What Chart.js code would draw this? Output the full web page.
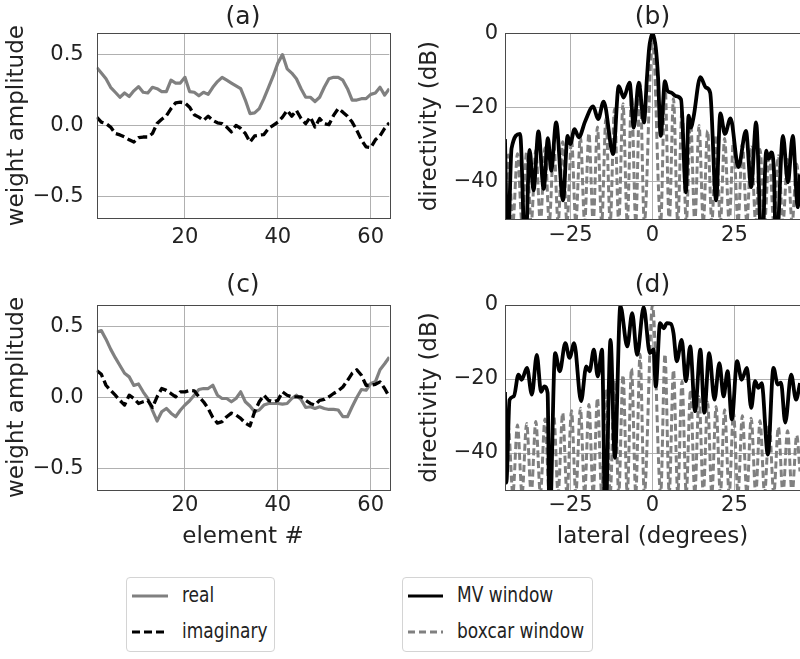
<!DOCTYPE html>
<html>
<head>
<meta charset="utf-8">
<script src="https://cdn.jsdelivr.net/npm/chart.js@4.4.0/dist/chart.umd.min.js"></script>
<style>
body { margin: 0; background: #fff; width: 800px; height: 659px; position: relative; overflow: hidden; font-family: "DejaVu Sans", sans-serif; color: #222; }
canvas { position: absolute; }
.legend { position: absolute; top: 577px; height: 75px; border: 1px solid #d4d4d4; border-radius: 4px; box-sizing: border-box; background: #fff; }
.row { position: absolute; left: 0; width: 100%; height: 30px; }
.row svg { position: absolute; left: 5px; top: 12px; }
.row span { position: absolute; top: 2px; font-size: 21px; line-height: 25px; transform: scaleX(0.81); transform-origin: left center; white-space: nowrap; }
</style>
</head>
<body>
<canvas id="chartA" width="400" height="255" style="left:0;top:0"></canvas>
<canvas id="chartB" width="400" height="255" style="left:400px;top:0"></canvas>
<canvas id="chartC" width="400" height="300" style="left:0;top:260px"></canvas>
<canvas id="chartD" width="400" height="300" style="left:400px;top:260px"></canvas>

<div class="legend" style="left:126px;width:149px">
  <div class="row" style="top:3px"><svg width="36" height="6"><line x1="0" y1="3" x2="36" y2="3" stroke="#808080" stroke-width="3"/></svg><span style="left:55px">real</span></div>
  <div class="row" style="top:39px"><svg width="36" height="6"><line x1="0" y1="3" x2="36" y2="3" stroke="#000" stroke-width="3" stroke-dasharray="8,4"/></svg><span style="left:55px">imaginary</span></div>
</div>
<div class="legend" style="left:402px;width:191px">
  <div class="row" style="top:3px"><svg width="35" height="6"><line x1="0" y1="3" x2="35" y2="3" stroke="#000" stroke-width="3"/></svg><span style="left:54px">MV window</span></div>
  <div class="row" style="top:39px"><svg width="35" height="6"><line x1="0" y1="3" x2="35" y2="3" stroke="#808080" stroke-width="3" stroke-dasharray="7,4"/></svg><span style="left:54px">boxcar window</span></div>
</div>

<script>
// element index (x of panels a, c)
var elements = [1,2,3,4,5,6,7,8,9,10,11,12,13,14,15,16,17,18,19,20,21,22,23,24,25,26,27,28,29,30,31,32,
  33,34,35,36,37,38,39,40,41,42,43,44,45,46,47,48,49,50,51,52,53,54,55,56,57,58,59,60,61,62,63,64];

var realA = [0.41,0.37,0.33,0.27,0.235,0.20,0.23,0.205,0.245,0.275,0.235,0.23,0.27,0.26,0.24,0.24,
  0.32,0.30,0.30,0.34,0.24,0.235,0.21,0.235,0.22,0.27,0.31,0.34,0.32,0.30,0.28,0.26,
  0.18,0.085,0.09,0.12,0.19,0.27,0.35,0.44,0.50,0.40,0.37,0.33,0.26,0.20,0.20,0.17,
  0.20,0.27,0.33,0.34,0.34,0.32,0.26,0.18,0.18,0.19,0.19,0.22,0.23,0.27,0.215,0.26];
var imagA = [0.06,0.025,0.015,-0.01,-0.055,-0.065,-0.08,-0.10,-0.115,-0.085,-0.08,-0.08,-0.055,0.015,0.045,0.07,
  0.12,0.16,0.165,0.16,0.13,0.077,0.06,0.037,0.067,0.037,0.02,0.014,-0.01,-0.044,0.002,-0.02,
  -0.055,-0.115,-0.072,-0.067,-0.063,-0.02,0.002,0.025,0.06,0.107,0.067,0.107,0.05,0.014,0.06,-0.01,
  0.05,0.014,0.007,0.072,0.12,0.095,0.067,0.025,-0.033,-0.10,-0.15,-0.155,-0.10,-0.072,-0.02,0.02];
var realC = [0.46,0.47,0.41,0.34,0.28,0.225,0.17,0.145,0.085,0.095,0.04,-0.007,-0.09,-0.165,-0.10,-0.077,
  -0.11,-0.135,-0.09,-0.053,-0.023,0.016,0.056,0.063,0.063,0.086,0.016,-0.007,-0.007,-0.03,-0.007,0.04,
  -0.03,-0.06,-0.10,-0.088,-0.053,-0.042,-0.042,-0.042,-0.047,-0.042,-0.007,0.016,-0.014,-0.07,-0.065,-0.077,
  -0.065,-0.077,-0.084,-0.084,-0.088,-0.135,-0.135,-0.065,0.0,0.056,0.051,0.098,0.11,0.195,0.237,0.284];
var imagC = [0.19,0.163,0.086,0.05,0.016,-0.02,-0.053,0.016,-0.007,-0.042,-0.03,-0.02,-0.07,0.005,0.063,0.05,
  0.028,0.005,0.04,0.04,0.05,0.047,0.005,-0.03,-0.077,-0.14,-0.18,-0.17,-0.135,-0.11,-0.123,-0.147,
  -0.18,-0.20,-0.10,-0.03,0.016,-0.02,-0.03,-0.02,0.04,0.016,0.005,0.005,0.005,-0.02,-0.042,-0.053,
  -0.02,-0.014,0.005,0.028,0.047,0.074,0.12,0.17,0.195,0.156,0.086,0.086,0.093,0.11,0.063,0.005];

// directivity, MV window (panel b)
var mvAngleB = [-45,-44.2,-43.0,-40.4,-38.8,-37.5,-36.3,-34.8,-33.2,-31.9,-30.9,-29.4,-27.3,-25.9,-25.1,-23.8,
  -22.5,-20.5,-18.1,-16.6,-14.9,-12.0,-10.3,-8.8,-7.0,-5.7,-4.2,-2.6,-1.7,-1.0,0,1.0,
  1.7,2.5,3.8,4.6,5.8,7.1,8.7,10.2,11.0,11.7,12.5,14.6,16.3,17.6,19.4,20.7,
  22.1,23.8,26.2,28.5,30.1,31.6,33.4,34.7,35.4,36.2,37.0,37.7,39.8,41.3,42.8,44.3,45];
var mvDbB = [-28.5,-60,-31,-27.1,-60,-31.4,-42.3,-26.4,-41.9,-28.2,-37,-24.0,-45,-27.6,-29.8,-25.8,
  -28.0,-23.6,-19.7,-23.1,-18.4,-32.5,-14.2,-17.3,-13.3,-25.4,-13.3,-24,-12,-3.9,0,-3.9,
  -12,-27.6,-12.9,-15.5,-16.0,-16.9,-17.8,-42.8,-22.2,-25.4,-22.7,-11.8,-14.6,-16.0,-45,-21.6,
  -27.1,-22.9,-36,-26.3,-41.4,-24.0,-60,-31.6,-33.8,-32.1,-36,-60,-27.6,-40.1,-27.6,-46.8,-38];

// directivity, MV window (panel d)
var mvAngleD = [-45,-44.6,-43.6,-42.3,-40.9,-39.9,-38.3,-36.8,-35.3,-34.0,-33.0,-32.0,-31.4,-29.7,-28.3,-26.6,
  -25.3,-23.9,-21.8,-20.2,-19.2,-17.9,-16.7,-15.4,-14.4,-12.8,-11.5,-9.8,-7.7,-6.2,-4.7,-2.7,
  -0.8,0.3,1.0,2.3,3.4,4.4,5.6,6.4,7.4,8.9,10.2,11.5,13.0,14.6,15.8,17.3,
  18.9,20.4,21.7,22.9,24.2,25.8,27.2,28.8,30.1,31.3,32.3,33.3,35.2,36.9,38.2,39.2,
  40.5,42.3,43.8,45];
var mvDbD = [-23.5,-48,-25.6,-24.7,-18.8,-20.2,-17.0,-24.2,-13.5,-23.5,-22.0,-23.8,-60,-13,-17.9,-10.3,
  -14.3,-10.3,-26,-16.6,-17.9,-12.1,-19.3,-12.1,-60,-9.4,-41.3,-0.3,-11.2,-2.2,-13.5,-0.6,
  -13.0,-12.0,-22,-4.9,-6.3,-4.9,-5.1,-7.6,-15.2,-9.4,-20.6,-11.2,-28.7,-12.1,-29.1,-13,
  -25.6,-15.7,-24.7,-17.9,-30.9,-15.2,-20.2,-17,-27.8,-20.6,-22.4,-21.1,-40.4,-17,-21.5,-21,
  -31.8,-18.8,-25.6,-21.1];

// directivity, boxcar window (same array in b and d); nulls sit just below the axis
var boxAngle = [-45,-44.0,-42.6,-41.2,-39.8,-38.4,-37.0,-35.6,-34.2,-32.8,-31.5,-30.1,-28.8,-27.4,-26.1,-24.7,
  -23.4,-22.0,-20.7,-19.4,-18.1,-16.8,-15.5,-14.2,-12.9,-11.6,-10.3,-9.0,-7.7,-6.4,-5.1,-3.8,
  -2.5,0,2.5,3.8,5.1,6.4,7.7,9.0,10.3,11.6,12.9,14.2,15.5,16.8,18.1,19.4,
  20.7,22.0,23.4,24.7,26.1,27.4,28.8,30.1,31.5,32.8,34.2,35.6,37.0,38.4,39.8,41.2,
  42.6,44.0,45];
var boxDb = [-45,-32.8,-51,-32.4,-51,-32.0,-51,-31.5,-51,-30.8,-51,-30.0,-51,-29.2,-51,-28.6,
  -51,-27.9,-51,-26.9,-51,-25.2,-51,-22.8,-51,-20.4,-51,-19.0,-51,-17.2,-51,-13.3,
  -51,0,-51,-13.3,-51,-17.6,-51,-20.7,-51,-23.0,-51,-24.8,-51,-26.2,-51,-27.4,
  -51,-28.3,-51,-29.1,-51,-29.9,-51,-30.6,-51,-31.3,-51,-32.1,-51,-33.0,-51,-34.0,
  -51,-35.2,-45];

var weightTicks = [-0.5, 0, 0.5];
var elementTicks = [20, 40, 60];
var dbTicks = [-40, -20, 0];
var angleTicks = [-25, 0, 25];

Chart.defaults.font.family = '"DejaVu Sans", sans-serif';
Chart.defaults.color = '#222';

var frame = {
  id: 'frame',
  afterDraw: function(chart) {
    var a = chart.chartArea, ctx = chart.ctx;
    ctx.save();
    ctx.strokeStyle = '#4a4a4a';
    ctx.lineWidth = 1;
    ctx.strokeRect(Math.round(a.left) + 0.5, Math.round(a.top) + 0.5, Math.round(a.right - a.left), Math.round(a.bottom - a.top));
    ctx.restore();
  }
};

function minus(s) { return s.replace('-', '\u2212'); }

function pts(xs, ys) { return xs.map(function(x, i) { return {x: x, y: ys[i]}; }); }

function makeChart(id, o) {
  var ctx = document.getElementById(id).getContext('2d');
  return new Chart(ctx, {
    type: 'line',
    data: o.data,
    options: {
      responsive: false,
      animation: false,
      layout: { padding: { left: 0, right: o.padRight, top: 0, bottom: 0 } },
      elements: { point: { radius: 0 }, line: { borderJoinStyle: 'round' } },
      plugins: {
        legend: { display: false },
        tooltip: { enabled: false },
        title: { display: true, text: o.title, fullSize: false, color: '#222',
                 font: { size: 25, weight: 'normal' }, padding: { top: o.titleTop, bottom: o.titleBottom } }
      },
      scales: {
        x: {
          type: 'linear', min: o.xmin, max: o.xmax,
          afterBuildTicks: function(s) { s.ticks = o.xticks.map(function(v) { return {value: v}; }); },
          afterFit: function(s) { s.height = o.xh; },
          grid: { color: '#b0b0b0', lineWidth: 1, drawTicks: false },
          border: { display: false },
          ticks: { padding: o.xpad, maxRotation: 0, font: { size: 21 }, color: '#222',
                   callback: function(v) { return minus(String(v)); } },
          title: { display: !!o.xtitle, text: o.xtitle || '', color: '#222', font: { size: 23 },
                   padding: { top: 0, bottom: 9 } }
        },
        y: {
          min: o.ymin, max: o.ymax,
          afterBuildTicks: function(s) { s.ticks = o.yticks.map(function(v) { return {value: v}; }); },
          afterFit: function(s) { s.width = o.yw; },
          grid: { color: '#b0b0b0', lineWidth: 1, drawTicks: false },
          border: { display: false },
          ticks: { padding: o.ypad, font: { size: 21 }, color: '#222', callback: o.yfmt },
          title: { display: true, text: o.ytitle, color: '#222', font: { size: 23 },
                   padding: { top: o.ytitlePad, bottom: 0 } }
        }
      }
    },
    plugins: [frame]
  });
}

function weightData(real, imag) {
  return {
    labels: elements,
    datasets: [
      { label: 'imaginary', data: imag, borderColor: '#000', borderWidth: 3.3, borderDash: [9, 4], clip: 0 },
      { label: 'real', data: real, borderColor: '#808080', borderWidth: 3.2, clip: 0 }
    ]
  };
}

function dirData(mvA, mvD) {
  return {
    datasets: [
      { label: 'MV window', data: pts(mvA, mvD), borderColor: '#000', borderWidth: 3.8,
        cubicInterpolationMode: 'monotone', clip: 0 },
      { label: 'boxcar window', data: pts(boxAngle, boxDb), borderColor: '#808080', borderWidth: 3,
        borderDash: [7, 3.5], cubicInterpolationMode: 'monotone', clip: 0 }
    ]
  };
}

var weightFmt = function(v) { return minus(v.toFixed(1)); };
var dbFmt = function(v) { return minus(String(v)); };

makeChart('chartA', {
  data: weightData(realA, imagA), title: '(a)', titleTop: 2, titleBottom: 1.3, padRight: 10.7,
  xmin: 1, xmax: 64, xticks: elementTicks, xh: 37, xpad: 7,
  ymin: -0.65, ymax: 0.65, yticks: weightTicks, yw: 96.7, ypad: 13, yfmt: weightFmt,
  ytitle: 'weight amplitude', ytitlePad: 3
});
makeChart('chartB', {
  data: dirData(mvAngleB, mvDbB), title: '(b)', titleTop: 2, titleBottom: 1.3, padRight: 0,
  xmin: -45, xmax: 45, xticks: angleTicks, xh: 36, xpad: 4,
  ymin: -50, ymax: 0, yticks: dbTicks, yw: 105, ypad: 7, yfmt: dbFmt,
  ytitle: 'directivity (dB)', ytitlePad: 16
});
makeChart('chartC', {
  data: weightData(realC, imagC), title: '(c)', titleTop: 10, titleBottom: 5, padRight: 10.7,
  xmin: 1, xmax: 64, xticks: elementTicks, xh: 70, xpad: 3, xtitle: 'element #',
  ymin: -0.65, ymax: 0.65, yticks: weightTicks, yw: 96.7, ypad: 13, yfmt: weightFmt,
  ytitle: 'weight amplitude', ytitlePad: 3
});
makeChart('chartD', {
  data: dirData(mvAngleD, mvDbD), title: '(d)', titleTop: 10, titleBottom: 5, padRight: 0,
  xmin: -45, xmax: 45, xticks: angleTicks, xh: 70, xpad: 3, xtitle: 'lateral (degrees)',
  ymin: -50, ymax: 0, yticks: dbTicks, yw: 105, ypad: 7, yfmt: dbFmt,
  ytitle: 'directivity (dB)', ytitlePad: 16
});
</script>
</body>
</html>
